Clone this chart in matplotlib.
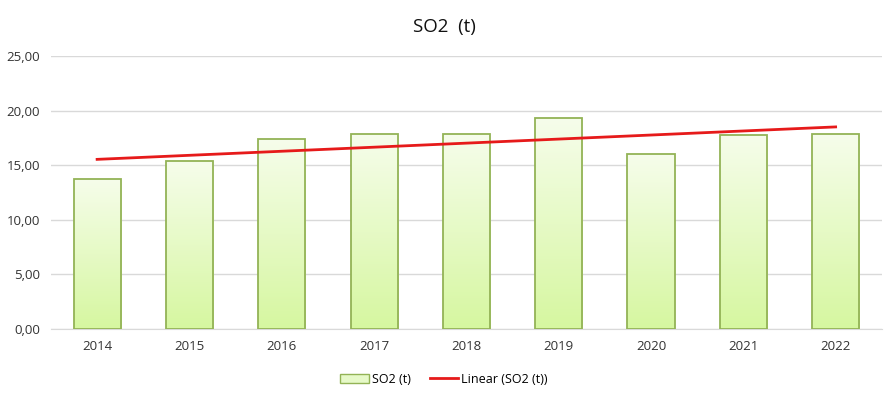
import numpy as np
import matplotlib.pyplot as plt
from matplotlib.ticker import FuncFormatter
from matplotlib.patches import Patch
from matplotlib.colors import LinearSegmentedColormap

years = ['2014', '2015', '2016', '2017', '2018', '2019', '2020', '2021', '2022']
so2 = [13.74, 15.38, 17.40, 17.86, 17.86, 19.30, 16.00, 17.77, 17.86]

plt.rcParams['font.family'] = ['Open Sans', 'DejaVu Sans']

fig = plt.figure(figsize=(8.88, 3.93), dpi=100)
ax = fig.add_axes([0.0574, 0.163, 0.9356, 0.6945])

x = np.arange(len(years))
edge = '#93b356'
bars = ax.bar(x, so2, width=0.51, facecolor='none', edgecolor=edge, linewidth=1.3, zorder=3)

# Gradient fill for each bar (light green at bottom, near white at top)
cmap = LinearSegmentedColormap.from_list('g', ['#d6f7a0', '#f6fdeb'])
grad = np.linspace(0, 1, 256).reshape(-1, 1)
for b in bars:
    bx, by = b.get_x(), b.get_y()
    w, h = b.get_width(), b.get_height()
    im = ax.imshow(grad, cmap=cmap, origin='lower', aspect='auto',
                   extent=[bx, bx + w, by, by + h], zorder=2)
    im.set_clip_path(b)

# Linear trend line
coef = np.polyfit(x, so2, 1)
ax.plot(x, np.polyval(coef, x), color='#e61a1a', linewidth=2, zorder=4)

ax.set_xlim(-0.5, len(years) - 0.5)
ax.set_ylim(0, 25)
ax.set_yticks(np.arange(0, 26, 5))
ax.yaxis.set_major_formatter(FuncFormatter(lambda v, p: f'{v:.2f}'.replace('.', ',')))
ax.set_xticks(x)
ax.set_xticklabels(years)
ax.tick_params(axis='both', length=0, labelsize=9.5, colors='#333333', pad=8)
ax.grid(axis='y', color='#d9d9d9', linewidth=1, zorder=0)
ax.set_axisbelow(True)
for s in ['top', 'right', 'left']:
    ax.spines[s].set_visible(False)
ax.spines['bottom'].set_color('#d9d9d9')

fig.suptitle('SO2  (t)', y=0.955, fontsize=13.5, color='#111111')

handles = [Patch(facecolor='#e6f9c8', edgecolor=edge, linewidth=1),
           plt.Line2D([0], [0], color='#e61a1a', linewidth=2)]
fig.legend(handles, ['SO2 (t)', 'Linear (SO2 (t))'], loc='center', ncol=2,
           bbox_to_anchor=(0.5, 0.035), frameon=False, fontsize=9,
           handlelength=2.3, handleheight=0.8, columnspacing=1.5, handletextpad=0.25)

fig.savefig('out.png', dpi=100, facecolor='white')
